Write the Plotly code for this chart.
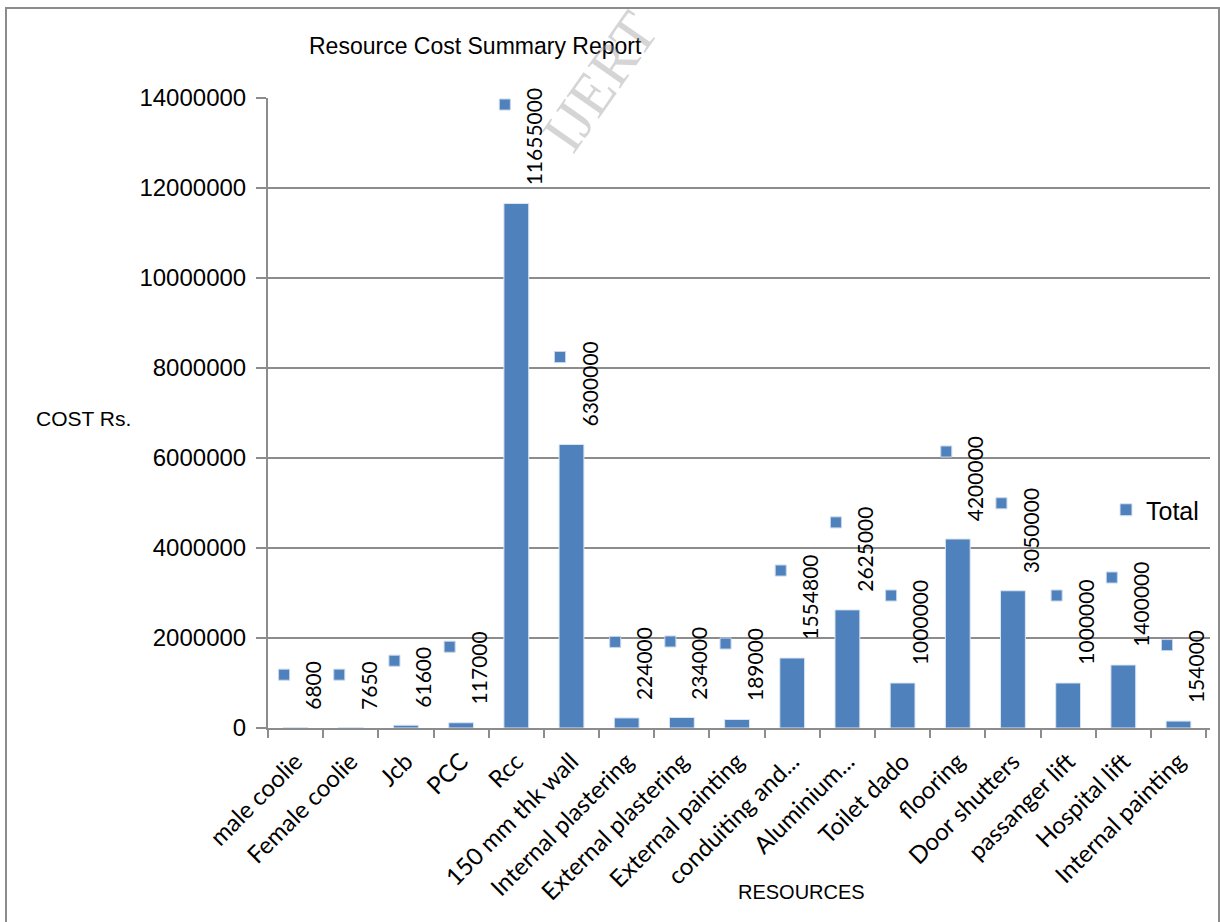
import plotly.graph_objects as go

categories = ["male coolie", "Female coolie", "Jcb", "PCC", "Rcc", "150 mm thk wall",
              "Internal plastering", "External plastering", "External painting",
              "conduiting and...", "Aluminium...", "Toilet dado", "flooring",
              "Door shutters", "passanger lift", "Hospital lift", "Internal painting"]
totals = [6800, 7650, 61600, 117000, 11655000, 6300000, 224000, 234000, 189000,
          1554800, 2625000, 1000000, 4200000, 3050000, 1000000, 1400000, 154000]
y_ticks = [0, 2000000, 4000000, 6000000, 8000000, 10000000, 12000000, 14000000]

BLUE = "#4F81BD"
GRID = "#8C8C8C"
NARROW = "Liberation Sans, Arial, sans-serif"
CAL = "Lato, Carlito, Calibri, Open Sans, sans-serif"

fig = go.Figure()
fig.add_trace(go.Bar(
    x=categories, y=totals, name="Total", width=0.45,
    marker=dict(color=BLUE, line=dict(color="#DCE6F2", width=1)),
))

annotations = []
shapes = []
for c, v in zip(categories, totals):
    s = str(v)
    annotations.append(dict(
        x=c, y=v, xref="x", yref="y", text=s, textangle=-90, showarrow=False,
        xanchor="center", yanchor="bottom", xshift=17, yshift=16,
        font=dict(family=CAL, size=21, color="#000000"),
    ))
    off = 16 + len(s) * 11.5 - 9
    shapes.append(dict(
        type="rect", xref="x", yref="y", xsizemode="pixel", ysizemode="pixel",
        xanchor=c, yanchor=v, x0=-17, x1=-6, y0=off - 5.5, y1=off + 5.5,
        fillcolor=BLUE, line=dict(color="#C6D5EA", width=1), layer="above",
    ))

# axis titles / title
annotations += [
    dict(text="Resource Cost Summary Report", xref="paper", yref="paper",
         x=(475 - 268) / 942, y=(728 - 46) / 630, showarrow=False,
         xanchor="center", yanchor="middle", font=dict(family=NARROW, size=23, color="#000")),
    dict(text="COST Rs.", xref="paper", yref="paper",
         x=(83 - 268) / 942, y=(728 - 418) / 630, showarrow=False,
         xanchor="center", yanchor="middle", font=dict(family=NARROW, size=21, color="#000")),
    dict(text="RESOURCES", xref="paper", yref="paper",
         x=(801 - 268) / 942, y=(728 - 892) / 630, showarrow=False,
         xanchor="center", yanchor="middle", font=dict(family=NARROW, size=20, color="#000")),
    dict(text="IJERT", xref="paper", yref="paper",
         x=(600 - 268) / 942, y=(728 - 82) / 630, showarrow=False, textangle=-55,
         xanchor="center", yanchor="middle",
         font=dict(family="Liberation Serif, DejaVu Serif, serif", size=60, color="rgba(150,150,150,0.4)")),
]

# outer frame of the chart
shapes.append(dict(type="rect", xref="paper", yref="paper",
                   x0=(6 - 268) / 942, x1=(1219 - 268) / 942,
                   y0=(728 - 940) / 630, y1=(728 - 8) / 630,
                   line=dict(color="#8C8C8C", width=2), layer="below"))

fig.update_layout(
    width=1220, height=922, autosize=False,
    margin=dict(l=268, r=10, t=98, b=194),
    paper_bgcolor="white", plot_bgcolor="white",
    annotations=annotations, shapes=shapes,
    showlegend=True,
    legend=dict(x=(1106 - 268) / 942, y=(728 - 510) / 630, xanchor="left", yanchor="middle",
                font=dict(family=NARROW, size=25, color="#000"), bgcolor="rgba(0,0,0,0)"),
    bargap=0.2,
)
fig.update_xaxes(
    type="category", tickangle=-45, tickson="boundaries", ticks="outside", ticklen=8,
    tickcolor=GRID, tickwidth=2, showline=True, linecolor=GRID, linewidth=2,
    showgrid=False, tickfont=dict(family=CAL, size=24, color="#000"), ticklabelstandoff=8,
)
fig.update_yaxes(
    range=[0, 14000000], tickvals=y_ticks, tickformat="d", ticks="outside", ticklen=10,
    tickcolor=GRID, tickwidth=2, showline=True, linecolor=GRID, linewidth=2,
    showgrid=True, gridcolor=GRID, gridwidth=2, zeroline=False,
    tickfont=dict(family=NARROW, size=24, color="#000"), ticklabelstandoff=5,
)

fig.write_html("out.html")
